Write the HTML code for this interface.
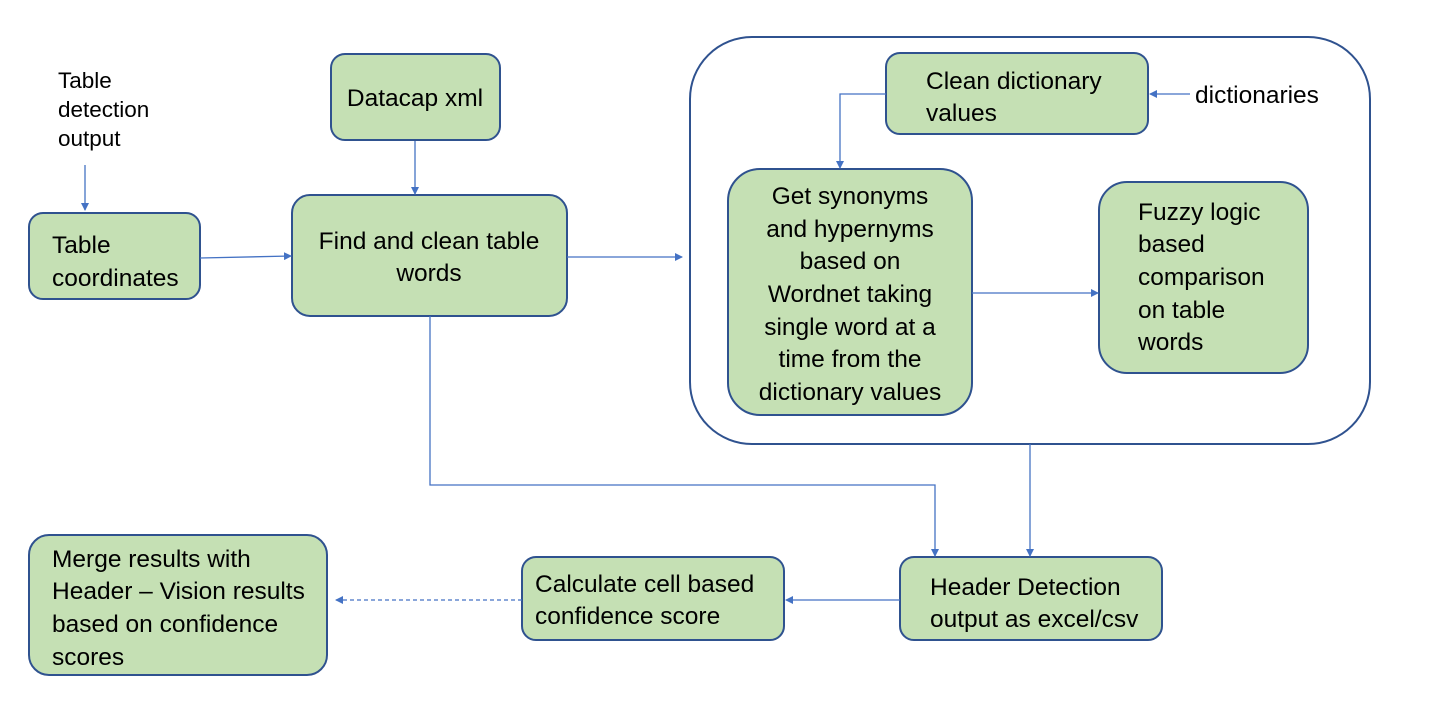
<!DOCTYPE html>
<html><head><meta charset="utf-8"><style>
body{margin:0;background:#fff}
svg text{font-family:"Liberation Sans",sans-serif;font-size:24.5px;fill:#000}
</style></head><body>
<svg width="1429" height="709" viewBox="0 0 1429 709" xmlns="http://www.w3.org/2000/svg">
<defs>
<marker id="a" markerWidth="8" markerHeight="8" refX="7" refY="4" orient="auto" markerUnits="userSpaceOnUse"><path d="M0,0 L8,4 L0,8 z" fill="#4472c4"/></marker>
</defs>
<g fill="#c5e0b4" stroke="#2f528f" stroke-width="2">
<rect x="331" y="54" width="169" height="86" rx="14"/>
<rect x="292" y="195" width="275" height="121" rx="18"/>
<rect x="29" y="213" width="171" height="86" rx="14"/>
<rect x="886" y="53" width="262" height="81" rx="14"/>
<rect x="728" y="169" width="244" height="246" rx="32"/>
<rect x="1099" y="182" width="209" height="191" rx="28"/>
<rect x="900" y="557" width="262" height="83" rx="14"/>
<rect x="522" y="557" width="262" height="83" rx="14"/>
<rect x="29" y="535" width="298" height="140" rx="20"/>
</g>
<rect x="690" y="37" width="680" height="407" rx="62" fill="none" stroke="#2f528f" stroke-width="2"/>
<g stroke="#4472c4" stroke-width="1.3" fill="none">
<line x1="85" y1="165" x2="85" y2="210" marker-end="url(#a)"/>
<line x1="200" y1="258" x2="291" y2="256" marker-end="url(#a)"/>
<line x1="415" y1="141" x2="415" y2="194" marker-end="url(#a)"/>
<line x1="567" y1="257" x2="682" y2="257" marker-end="url(#a)"/>
<line x1="1190" y1="94" x2="1150" y2="94" marker-end="url(#a)"/>
<polyline points="886,94 840,94 840,168" marker-end="url(#a)"/>
<line x1="972" y1="293" x2="1098" y2="293" marker-end="url(#a)"/>
<polyline points="430,316 430,485 935,485 935,556" marker-end="url(#a)"/>
<line x1="1030" y1="444" x2="1030" y2="556" marker-end="url(#a)"/>
<line x1="900" y1="600" x2="786" y2="600" marker-end="url(#a)"/>
<line x1="522" y1="600" x2="336" y2="600" stroke-dasharray="4,3" marker-end="url(#a)"/>
</g>
<text x="58" y="88" style="font-size:22.5px">Table</text>
<text x="58" y="117" style="font-size:22.5px">detection</text>
<text x="58" y="146" style="font-size:22.5px">output</text>
<text x="415" y="106" text-anchor="middle">Datacap xml</text>
<text x="429" y="249" text-anchor="middle">Find and clean table</text>
<text x="429" y="281" text-anchor="middle">words</text>
<text x="52" y="253">Table</text>
<text x="52" y="286">coordinates</text>
<text x="926" y="89">Clean dictionary</text>
<text x="926" y="121">values</text>
<text x="1195" y="103">dictionaries</text>
<g text-anchor="middle">
<text x="850" y="204">Get synonyms</text>
<text x="850" y="237">and hypernyms</text>
<text x="850" y="269">based on</text>
<text x="850" y="302">Wordnet taking</text>
<text x="850" y="335">single word at a</text>
<text x="850" y="367">time from the</text>
<text x="850" y="400">dictionary values</text>
</g>
<text x="1138" y="220">Fuzzy logic</text>
<text x="1138" y="252">based</text>
<text x="1138" y="285">comparison</text>
<text x="1138" y="318">on table</text>
<text x="1138" y="350">words</text>
<text x="930" y="595">Header Detection</text>
<text x="930" y="627">output as excel/csv</text>
<text x="535" y="592">Calculate cell based</text>
<text x="535" y="624">confidence score</text>
<text x="52" y="567">Merge results with</text>
<text x="52" y="599">Header – Vision results</text>
<text x="52" y="632">based on confidence</text>
<text x="52" y="665">scores</text>
</svg>
</body></html>
